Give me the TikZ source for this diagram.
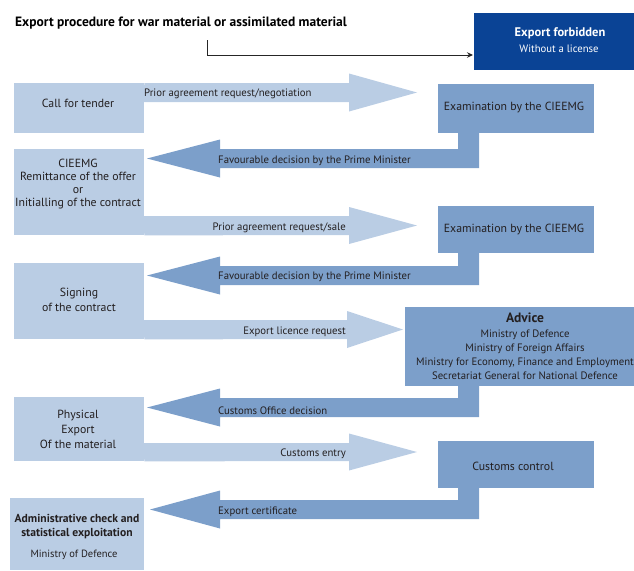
\documentclass[tikz,border=0pt]{standalone}
\usepackage{fontspec}
\setmainfont{PT Sans}
\usetikzlibrary{arrows.meta,calc}
\definecolor{lightc}{RGB}{186,205,228}
\definecolor{midc}{RGB}{124,159,202}
\definecolor{darkc}{RGB}{10,67,149}
\definecolor{txt}{RGB}{35,31,32}
\tikzset{
  boxl/.style={fill=lightc, draw=none, inner sep=0pt, anchor=north west},
  boxm/.style={fill=midc, draw=none, inner sep=0pt, anchor=north west},
  boxd/.style={fill=darkc, draw=none, inner sep=0pt, anchor=north west},
  btxt/.style={text=txt, inner sep=0pt, align=center, font=\fontsize{11.8}{13.5}\selectfont},
  alab/.style={text=txt, inner sep=0pt, font=\fontsize{10.75}{12}\selectfont},
  larrow/.style={fill=lightc, draw=none},
  darrow/.style={fill=midc, draw=none}
}
\begin{document}
\begin{tikzpicture}[x=1pt,y=-1pt]
\useasboundingbox (0,0) rectangle (634,570);

% title
\node[anchor=base west, inner sep=0pt, text=black, font=\bfseries\fontsize{13.5}{15}\selectfont] (title) at (15,27) {Export procedure for war material or assimilated material};

% boxes
\node[boxd, minimum width=160pt, minimum height=57pt] (forbid) at (474,13) {};
\node[boxl, minimum width=130pt, minimum height=50pt] (call) at (14,83) {};
\node[boxm, minimum width=156pt, minimum height=49pt] (exam1) at (438,84) {};
\node[boxl, minimum width=130pt, minimum height=86pt] (cieemg) at (14,149) {};
\node[boxm, minimum width=156pt, minimum height=47pt] (exam2) at (438,206) {};
\node[boxl, minimum width=130pt, minimum height=76pt] (signing) at (14,263) {};
\node[boxm, minimum width=229pt, minimum height=79pt] (advice) at (405,307) {};
\node[boxl, minimum width=130pt, minimum height=64pt] (physical) at (14,397) {};
\node[boxm, minimum width=156pt, minimum height=47pt] (customs) at (438,441) {};
\node[boxl, minimum width=134pt, minimum height=72pt] (admin) at (10,498) {};

% title connector
\coordinate (ts) at (207,40);
\coordinate (te) at (473,55);
\draw[line width=1pt, draw=black!85, -{Stealth[length=6pt,width=5.5pt]}] (ts) |- (te);

% light arrows (rightwards)
\fill[larrow] (call.north east) -- (349,83) -- (349,73.5) -- (417,92.5) -- (349,111.5) -- (349,102) -- (143,102) -- cycle;
\fill[larrow] (143,216) -- (349,216) -- (349,207) -- (417,225.5) -- (349,244) -- (349,235) -- (cieemg.south east) -- cycle;
\fill[larrow] (143,320) -- (347,320) -- (347,311) -- (403,329.5) -- (347,348) -- (347,339) -- (signing.south east) -- cycle;
\fill[larrow] (143,443) -- (349,443) -- (349,433.5) -- (417,452) -- (349,470.5) -- (349,461) -- (physical.south east) -- cycle;

% dark arrows (leftwards)
\fill[darrow] (458,132) -- (479,132) -- (479,168) -- (220,168) -- (220,177.5) -- (147,158.5) -- (220,139.5) -- (220,149) -- (458,149) -- cycle;
\fill[darrow] (458,252) -- (479,252) -- (479,285) -- (220,285) -- (220,294.5) -- (147,275.5) -- (220,256.5) -- (220,266) -- (458,266) -- cycle;
\fill[darrow] (458,385) -- (479,385) -- (479,417) -- (220,417) -- (220,426.5) -- (147,407.5) -- (220,388.5) -- (220,398) -- (458,398) -- cycle;
\fill[darrow] (458,487) -- (479,487) -- (479,519) -- (220,519) -- (220,528.5) -- (150,509.5) -- (220,490.5) -- (220,500) -- (458,500) -- cycle;

% box texts
\node[inner sep=0pt, text=white, font=\bfseries\fontsize{12.5}{14}\selectfont] (forbidT) at (560,33) {Export forbidden};
\node[inner sep=0pt, text=white, font=\fontsize{10.7}{12}\selectfont] (forbidS) at (559,49) {Without a license};
\node[btxt] (callT) at (78,103) {Call for tender};
\node[btxt] (exam1T) at (514,108) {Examination by the CIEEMG};
\node[btxt, font=\fontsize{11.8}{12.7}\selectfont] (cieemgT) at (78,184) {CIEEMG\\Remittance of the offer\\or\\Initialling of the contract};
\node[btxt] (exam2T) at (514,229.5) {Examination by the CIEEMG};
\node[btxt, font=\fontsize{11.8}{14.5}\selectfont] (signingT) at (79,300) {Signing\\of the contract};
\node[inner sep=0pt, text=txt, font=\bfseries\fontsize{13.5}{15}\selectfont] (adviceT) at (525,318) {Advice};
\node[btxt, font=\fontsize{10.75}{14}\selectfont] (adviceL) at (525,355) {Ministry of Defence\\Ministry of Foreign Affairs\\Ministry for Economy, Finance and Employment\\Secretariat General for National Defence};
\node[btxt, font=\fontsize{11.8}{15}\selectfont] (physicalT) at (78,429) {Physical\\Export\\Of the material};
\node[btxt] (customsT) at (513,466) {Customs control};
\node[btxt, font=\bfseries\fontsize{11.6}{14}\selectfont] (adminT) at (77,527) {Administrative check and\\statistical exploitation};
\node[btxt, font=\fontsize{10.5}{12}\selectfont] (adminS) at (74,555) {Ministry of Defence};

% arrow labels
\node[alab, anchor=west] (l1) at (144,93.5) {Prior agreement request/negotiation};
\node[alab, anchor=east] (l2) at (346,227.5) {Prior agreement request/sale};
\node[alab, anchor=east] (l3) at (346,331.5) {Export licence request};
\node[alab, anchor=east] (l4) at (346,453.5) {Customs entry};
\node[alab, anchor=west] (d1) at (218,160.5) {Favourable decision by the Prime Minister};
\node[alab, anchor=west] (d2) at (218,276.5) {Favourable decision by the Prime Minister};
\node[alab, anchor=west] (d3) at (218,410.5) {Customs Office decision};
\node[alab, anchor=west] (d4) at (218,511.5) {Export certificate};
\end{tikzpicture}
\end{document}
